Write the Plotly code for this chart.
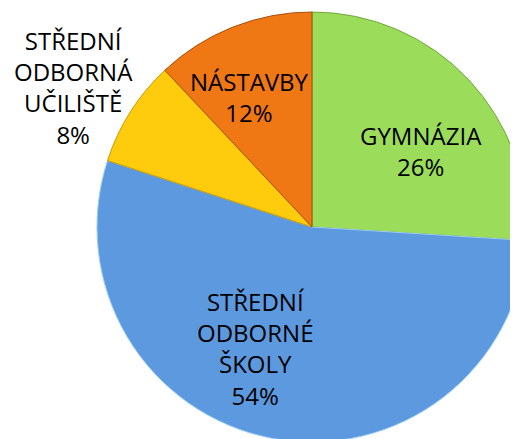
import plotly.graph_objects as go

labels = ["GYMNÁZIA", "STŘEDNÍ ODBORNÉ ŠKOLY", "STŘEDNÍ ODBORNÁ UČILIŠTĚ", "NÁSTAVBY"]
label_lines = ["GYMNÁZIA", "STŘEDNÍ<br>ODBORNÉ<br>ŠKOLY", "STŘEDNÍ<br>ODBORNÁ<br>UČILIŠTĚ", "NÁSTAVBY"]
values = [26, 54, 8, 12]
colors = ["#9BDD5B", "#5C99DF", "#FFCB0D", "#F07814"]
edge_colors = ["#6FA83A", "#9CCBF5", "#C99A00", "#A8500A"]

W, H = 530, 450
FONT = dict(family="Open Sans", size=24, color="black")

# label anchor positions (figure pixels, from top-left)
label_pos = [(413, 143), (247, 340), (65, 79), (241, 89)]

fig = go.Figure(go.Pie(
    labels=labels,
    values=values,
    textinfo="none",
    sort=False,
    direction="clockwise",
    rotation=0,
    marker=dict(colors=colors, line=dict(color=edge_colors, width=1)),
    domain=dict(x=[89 / W, 519 / W], y=[16 / H, 446 / H]),
    showlegend=False,
    hoverinfo="label+percent",
))

total = sum(values)
for txt, v, (px, py) in zip(label_lines, values, label_pos):
    fig.add_annotation(
        text=f"{txt}<br>{round(100 * v / total)}%",
        xref="paper", yref="paper",
        x=px / W, y=(H - py) / H,
        xanchor="center", yanchor="middle",
        showarrow=False,
        font=FONT,
        align="center",
    )

fig.update_layout(
    width=W,
    height=H,
    margin=dict(l=0, r=0, t=0, b=0),
    paper_bgcolor="white",
    plot_bgcolor="white",
)

fig.write_html("out.html")
